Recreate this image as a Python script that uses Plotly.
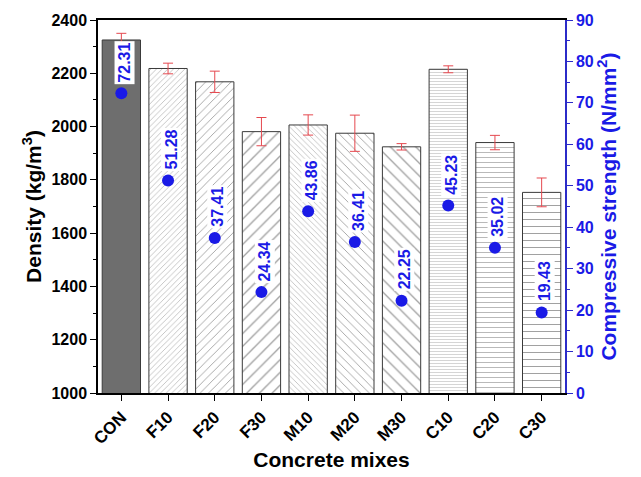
import plotly.graph_objects as go

# Concrete mixes and measured properties
mixes = ["CON", "F10", "F20", "F30", "M10", "M20", "M30", "C10", "C20", "C30"]
density = [2325, 2218, 2168, 1981, 2006, 1975, 1924, 2215, 1940, 1753]
density_err = [25, 20, 40, 53, 38, 68, 12, 13, 27, 54]
strength = [72.31, 51.28, 37.41, 24.34, 43.86, 36.41, 22.25, 45.23, 35.02, 19.43]

# Fill patterns per mix family (F-series "/", M-series "\", C-series "-")
pattern_shape = ["", "/", "/", "/", "\\", "\\", "\\", "-", "-", "-"]
pattern_size = [6, 4, 6, 9, 4, 6, 9, 3, 5, 7]
bar_colors = ["#6e6e6e"] + ["white"] * 9

FONT = "Liberation Sans, Arial, sans-serif"
BLUE = "#1a1ae6"
AXIS_BLUE = "#2b2bc8"

fig = go.Figure()

fig.add_trace(go.Bar(
    x=mixes, y=density,
    base=0,
    width=0.82,
    marker=dict(
        color=bar_colors,
        line=dict(color="#3a3a3a", width=1),
        pattern=dict(shape=pattern_shape, size=pattern_size,
                     fgcolor="#6a6a6a", bgcolor="white", solidity=0.15),
    ),
    error_y=dict(type="data", array=density_err, color="#e5484f",
                 thickness=1, width=5),
    showlegend=False,
))

fig.add_trace(go.Scatter(
    x=mixes, y=strength, yaxis="y2", mode="markers",
    marker=dict(color=BLUE, size=12),
    showlegend=False,
))

for m, s in zip(mixes, strength):
    fig.add_annotation(
        x=m, y=s, xref="x", yref="y2",
        text=f"{s:.2f}", textangle=-90,
        yanchor="bottom", xanchor="center", yshift=9, xshift=3,
        showarrow=False, bgcolor="white", borderpad=1,
        font=dict(family=FONT, size=16, color=BLUE, weight="bold"),
    )

fig.update_layout(
    width=641, height=477,
    margin=dict(l=98, r=76, t=17, b=84),
    paper_bgcolor="white", plot_bgcolor="white",
    font=dict(family=FONT, size=17, color="black", weight="bold"),
    bargap=0.18,
    xaxis=dict(
        range=[-0.5, 9.5], automargin=False,
        title=dict(text="Concrete mixes", font=dict(size=21, weight="bold"), standoff=5),
        tickangle=-45, ticks="outside", ticklen=6, tickcolor="black",
        showline=True, linecolor="black", linewidth=1.5, mirror=True,
        showgrid=False, tickfont=dict(size=17, weight="bold"),
    ),
    yaxis=dict(
        range=[1000, 2400], dtick=200,
        title=dict(text="Density (kg/m<sup>3</sup>)", font=dict(size=21, weight="bold"), standoff=4),
        ticks="outside", ticklen=6, tickcolor="black",
        minor=dict(dtick=100, ticks="outside", ticklen=3, tickcolor="black"),
        showline=True, linecolor="black", linewidth=1.5,
        showgrid=False, zeroline=False, tickfont=dict(size=16, weight="bold"),
    ),
    yaxis2=dict(
        range=[0, 90], dtick=10, overlaying="y", side="right",
        title=dict(text="Compressive strength (N/mm<sup>2</sup>)",
                   font=dict(size=21, color=BLUE, weight="bold"), standoff=4),
        ticks="outside", ticklen=6, tickcolor=AXIS_BLUE,
        minor=dict(dtick=5, ticks="outside", ticklen=3, tickcolor=AXIS_BLUE),
        showline=True, linecolor=AXIS_BLUE, linewidth=1.5,
        showgrid=False, zeroline=False,
        tickfont=dict(size=16, color=BLUE, weight="bold"),
    ),
)

fig.write_html("out.html")
